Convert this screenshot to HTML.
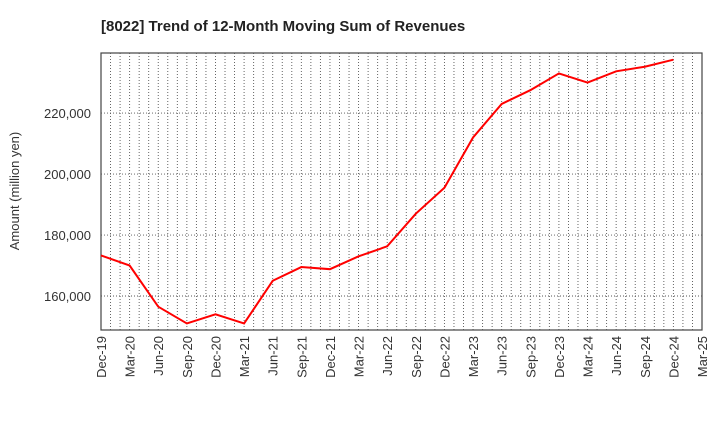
<!DOCTYPE html>
<html><head><meta charset="utf-8"><style>
body{margin:0;background:#fff;font-family:"Liberation Sans",sans-serif;}
</style></head><body>
<svg id="chart" width="720" height="440" xmlns="http://www.w3.org/2000/svg">
<text x="101" y="31" text-anchor="start" font-size="15" font-weight="bold" fill="#222">[8022]  Trend of 12-Month Moving Sum of Revenues</text>
<text transform="translate(19,191) rotate(-90)" text-anchor="middle" font-size="13" fill="#333">Amount (million yen)</text>
<g id="grid"></g><g id="axes"></g><g id="series"></g>
</svg>
<script>
const categories=["Dec-19","Mar-20","Jun-20","Sep-20","Dec-20","Mar-21","Jun-21","Sep-21","Dec-21","Mar-22","Jun-22","Sep-22","Dec-22","Mar-23","Jun-23","Sep-23","Dec-23","Mar-24","Jun-24","Sep-24","Dec-24","Mar-25"];
const revenues=[173300,170000,156500,151000,154000,151000,165000,169500,168800,173000,176300,187000,195500,212000,223000,227500,233000,230000,233700,235200,237500];
const yTicks=[160000,180000,200000,220000];
const L=101,R=702,T=53,B=330,yMin=148850,yMax=239700;
const NS="http://www.w3.org/2000/svg";
const x=i=>L+(R-L)*i/(categories.length-1);
const y=v=>B-(v-yMin)/(yMax-yMin)*(B-T);
function mk(t,a,p){const e=document.createElementNS(NS,t);for(const k in a)e.setAttribute(k,a[k]);p.appendChild(e);return e;}
const grid=document.getElementById('grid'),axes=document.getElementById('axes'),series=document.getElementById('series');
const bg=mk('rect',{x:L,y:T,width:R-L,height:B-T,fill:'#fff',stroke:'#444','stroke-width':1.2},grid);


for(let m=1;m<(categories.length-1)*3;m++){
 const xx=L+(R-L)*m/((categories.length-1)*3);
 const g=mk('line',{x1:xx,x2:xx,y1:T,y2:B,stroke:'#555','stroke-width':0.9,'stroke-dasharray':'1,2'},grid);
 
 
}
yTicks.forEach(v=>{
 const yy=y(v);
 const g=mk('line',{x1:L,x2:R,y1:yy,y2:yy,stroke:'#555','stroke-width':0.9,'stroke-dasharray':'1,2'},grid);
 
 
 const t=mk('text',{x:L-10,y:yy+5,'text-anchor':'end','font-size':13,fill:'#333'},axes);
 t.textContent=v.toLocaleString('en-US');
 
 
});
categories.forEach((c,i)=>{
 const xx=x(i);
 const t=mk('text',{transform:`translate(${xx+5},${B+6}) rotate(-90)`,'text-anchor':'end','font-size':13,fill:'#333'},axes);
 t.textContent=c;
 
 
});
const line=mk('polyline',{points:revenues.map((v,i)=>x(i)+','+y(v)).join(' '),fill:'none',stroke:'#ff0000','stroke-width':2},series);


</script>
</body></html>
